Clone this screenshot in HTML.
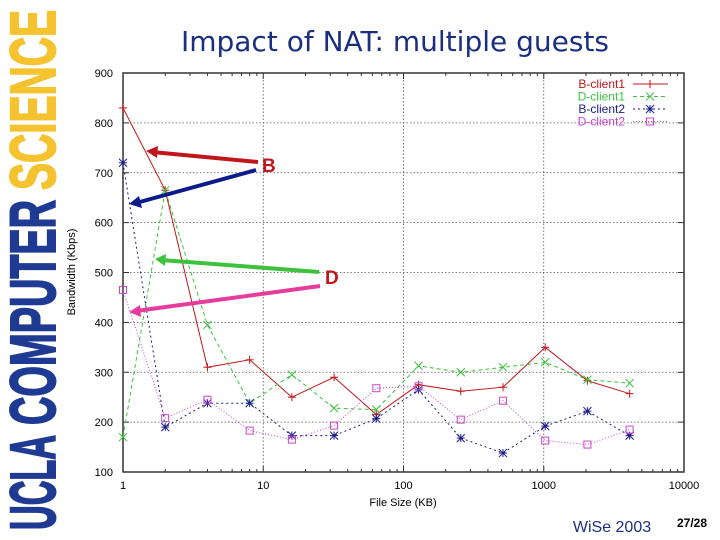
<!DOCTYPE html>
<html><head><meta charset="utf-8"><style>
body{margin:0;background:#fff;}
svg{display:block;font-family:"Liberation Sans",sans-serif;}
</style></head><body>
<svg id="chart" width="720" height="540" viewBox="0 0 720 540">
<g transform="translate(55,530) rotate(-90)">
<text x="0" y="0" font-size="64" font-weight="bold" fill="#1f3a93" stroke="#1f3a93" stroke-width="2" textLength="95" lengthAdjust="spacingAndGlyphs">UCLA</text>
<text x="105" y="0" font-size="64" font-weight="bold" fill="#1f3a93" stroke="#1f3a93" stroke-width="2" textLength="225" lengthAdjust="spacingAndGlyphs">COMPUTER</text>
<text x="340" y="0" font-size="64" font-weight="bold" fill="#f5c230" stroke="#f5c230" stroke-width="2" textLength="180" lengthAdjust="spacingAndGlyphs">SCIENCE</text>
</g>
<text x="395" y="51" font-size="28" fill="#1a2f80" text-anchor="middle" font-family="DejaVu Sans, sans-serif">Impact of NAT: multiple guests</text>
<g id="grid"></g>
<rect x="123" y="73" width="561" height="399" fill="none" stroke="#333" stroke-width="1.5"/>
<g id="axes"></g>
<text transform="translate(75,272) rotate(-90)" font-size="11" text-anchor="middle" fill="#000">Bandwidth (Kbps)</text>
<text x="403" y="506" font-size="11" text-anchor="middle" fill="#000">File Size (KB)</text>
<g id="series"></g>
<g id="legend"></g>
<g>
<line x1="258" y1="162" x2="152" y2="152" stroke="#c0161c" stroke-width="4"/>
<polygon points="146,151 158,146 157,158" fill="#c0161c"/>
<line x1="256" y1="170" x2="136" y2="203" stroke="#0d1a8a" stroke-width="4"/>
<polygon points="129,204 139,196 142,208" fill="#0d1a8a"/>
<text x="262" y="172" font-size="19" font-weight="bold" fill="#c0161c">B</text>
<line x1="319" y1="272" x2="161" y2="260" stroke="#3ec23e" stroke-width="4"/>
<polygon points="155,259 166,254 165,266" fill="#3ec23e"/>
<line x1="320" y1="286" x2="136" y2="311" stroke="#e83c9c" stroke-width="4"/>
<polygon points="129,312 140,305 141,317" fill="#e83c9c"/>
<text x="325" y="284" font-size="19" font-weight="bold" fill="#c0161c">D</text>
</g>
<text x="612" y="532" font-size="16" fill="#1a2f80" text-anchor="middle">WiSe 2003</text>
<text x="692" y="527" font-size="12" font-weight="bold" fill="#000" text-anchor="middle">27/28</text>
</svg>
<script>
const fileSizes=[1,2,4,8,16,32,64,128,256,512,1024,2048,4096];
const bClient1=[830,665,310,325,250,290,215,275,262,270,350,283,257];
const dClient1=[170,665,395,238,295,228,225,313,300,310,320,285,278];
const bClient2=[720,190,238,238,173,173,207,265,168,138,192,222,173];
const dClient2=[465,208,245,183,165,193,268,272,205,243,163,155,185];
const yTicks=[100,200,300,400,500,600,700,800,900];
const xTicks=[1,10,100,1000,10000];
const seriesNames=["B-client1","D-client1","B-client2","D-client2"];

const NS="http://www.w3.org/2000/svg";
const L=123,R=684,T=73,B=472;
function xs(v){return L+(Math.log10(v)-0)/4*(R-L);}
function ys(v){return B-(v-100)/800*(B-T);}
function mk(tag,attrs,parent){const e=document.createElementNS(NS,tag);for(const k in attrs)e.setAttribute(k,attrs[k]);parent.appendChild(e);return e;}
const grid=document.getElementById('grid'),axes=document.getElementById('axes'),ser=document.getElementById('series'),leg=document.getElementById('legend');
yTicks.forEach(v=>{
  const y=ys(v);
  if(v>100&&v<900){const g=mk('line',{x1:L,x2:R,y1:y,y2:y,stroke:'#555','stroke-width':0.8,'stroke-dasharray':'1.5,2'},grid);
  
  }
  const t=mk('line',{x1:L,x2:L+6,y1:y,y2:y,stroke:'#333'},axes);
  
  
  const t2=mk('line',{x1:R,x2:R-6,y1:y,y2:y,stroke:'#333'},axes);
  
  
  const tx=mk('text',{x:L-10,y:y+4,'font-size':11,'text-anchor':'end',fill:'#000'},axes);
  tx.textContent=v;
  
  
});
xTicks.forEach((v,i)=>{
  const x=xs(v);
  if(v>1&&v<10000){const g=mk('line',{x1:x,x2:x,y1:T,y2:B,stroke:'#555','stroke-width':0.8,'stroke-dasharray':'1.5,2'},grid);
  
  }
  const tx=mk('text',{x:x,y:B+17,'font-size':11,'text-anchor':'middle',fill:'#000'},axes);
  tx.textContent=v;
  
  
  if(i<xTicks.length-1){for(let m=1;m<10;m++){const xx=xs(v*m);const len=m===1?6:3;
    const a=mk('line',{x1:xx,x2:xx,y1:B,y2:B-len,stroke:'#333'},axes);
    
    
    const b=mk('line',{x1:xx,x2:xx,y1:T,y2:T+len,stroke:'#333'},axes);
    
    }}
});
const styles=[
 {data:bClient1,color:'#c0161c',dash:'',mark:'plus'},
 {data:dClient1,color:'#3ec23e',dash:'4,3',mark:'x'},
 {data:bClient2,color:'#1a1a8a',dash:'2,3',mark:'star'},
 {data:dClient2,color:'#cc44cc',dash:'1,2',mark:'square'}];
function marker(type,x,y,color,parent){
  const g=mk('g',{stroke:color,'stroke-width':1,fill:'none'},parent);
  const s=4;
  if(type==='plus'||type==='star'){mk('line',{x1:x-s,x2:x+s,y1:y,y2:y},g);mk('line',{x1:x,x2:x,y1:y-s,y2:y+s},g);}
  if(type==='x'||type==='star'){mk('line',{x1:x-s,x2:x+s,y1:y-s,y2:y+s},g);mk('line',{x1:x-s,x2:x+s,y1:y+s,y2:y-s},g);}
  if(type==='square'){mk('rect',{x:x-3.5,y:y-3.5,width:7,height:7},g);}
  return g;
}
styles.forEach((st,si)=>{
  const pts=st.data.map((v,i)=>xs(fileSizes[i]).toFixed(1)+','+ys(v).toFixed(1)).join(' ');
  const pl=mk('polyline',{points:pts,fill:'none',stroke:st.color,'stroke-width':1,'stroke-dasharray':st.dash},ser);
  
  
  st.data.forEach((v,i)=>{const m=marker(st.mark,xs(fileSizes[i]),ys(v),st.color,ser);
    
    });
  const ly=84+si*12.5;
  const lt=mk('text',{x:625,y:ly+4,'font-size':12,'text-anchor':'end',fill:st.color},leg);
  lt.textContent=seriesNames[si];
  
  
  const ll=mk('line',{x1:633,x2:668,y1:ly,y2:ly,stroke:st.color,'stroke-dasharray':st.dash},leg);
  
  
  const lm=marker(st.mark,650,ly,st.color,leg);
  
  
});
</script>
</body></html>
